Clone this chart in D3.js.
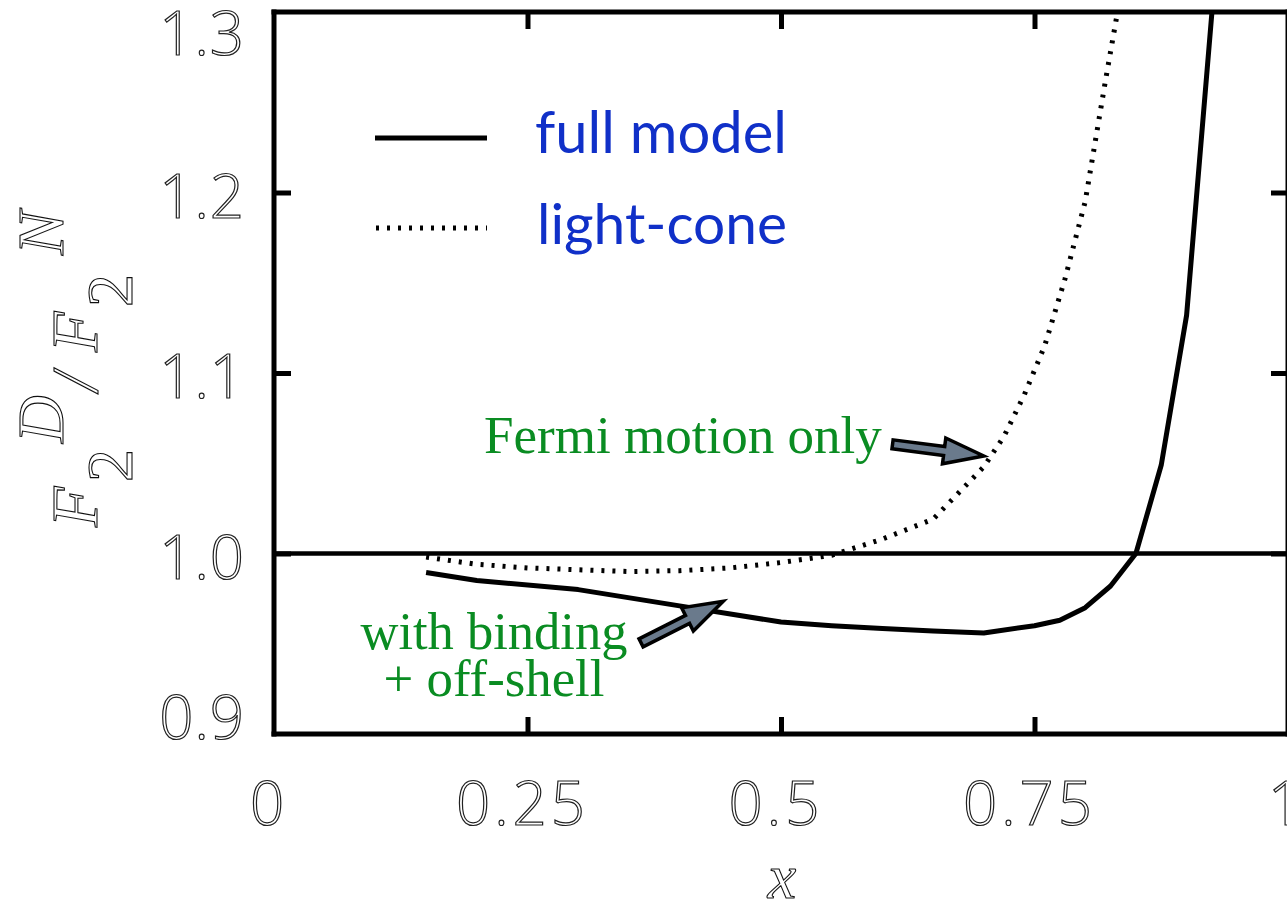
<!DOCTYPE html>
<html>
<head>
<meta charset="utf-8">
<script src="https://cdn.jsdelivr.net/npm/d3@7"></script>
<style>
  html, body { margin: 0; padding: 0; background: #fff; overflow: hidden; }
  svg { display: block; }
</style>
</head>
<body>
<svg id="chart" width="1287" height="905"></svg>
<script>
// ---------------- data ----------------
const xTicks = [0, 0.25, 0.5, 0.75, 1];
const xTickLabels = ["0", "0.25", "0.5", "0.75", "1"];
const yTicks = [0.9, 1.0, 1.1, 1.2, 1.3];
const yTickLabels = ["0.9", "1.0", "1.1", "1.2", "1.3"];

// full model (solid)
const fullX = [0.15, 0.2, 0.3, 0.4, 0.5, 0.55, 0.6, 0.65, 0.7, 0.75, 0.775, 0.8, 0.825, 0.85, 0.875, 0.9, 0.925];
const fullY = [0.9895, 0.985, 0.980, 0.971, 0.962, 0.960, 0.9585, 0.957, 0.956, 0.960, 0.963, 0.970, 0.982, 1.0, 1.049, 1.132, 1.30];

// light-cone (dotted)
const lcX = [0.15, 0.2, 0.25, 0.3, 0.35, 0.4, 0.45, 0.5, 0.55, 0.6, 0.65, 0.7, 0.72, 0.74, 0.76, 0.78, 0.8, 0.82, 0.835];
const lcY = [0.998, 0.994, 0.992, 0.991, 0.990, 0.9905, 0.992, 0.995, 0.999, 1.008, 1.019, 1.048, 1.065, 1.088, 1.115, 1.152, 1.195, 1.262, 1.31];

const seriesNames = ["full model", "light-cone"];
const annotations = ["Fermi motion only", "with binding", "+ off-shell"];

// ---------------- layout ----------------
const svg = d3.select("#chart");
const X0 = 274, X1 = 1288, Y0 = 734, Y1 = 12;
const x = d3.scaleLinear().domain([0, 1]).range([X0, X1]);
const y = d3.scaleLinear().domain([0.9, 1.3]).range([Y0, Y1]);

const blue = "#1030c8";
const green = "#0a8c22";

svg.append("defs").append("clipPath").attr("id", "clip")
  .append("rect").attr("x", X0).attr("y", Y1).attr("width", X1 - X0).attr("height", Y0 - Y1);

// frame
const frame = svg.append("g").attr("fill", "none").attr("stroke", "#000").attr("stroke-width", 5);
frame.append("line").attr("x1", X0).attr("x2", X0).attr("y1", Y1 - 2.5).attr("y2", Y0 + 2.5);
frame.append("line").attr("x1", X1).attr("x2", X1).attr("y1", Y1 - 2.5).attr("y2", Y0 + 2.5);
frame.append("line").attr("x1", X0 - 2.5).attr("x2", X1 + 3).attr("y1", Y1).attr("y2", Y1);
frame.append("line").attr("x1", X0 - 2.5).attr("x2", X1 + 3).attr("y1", Y0).attr("y2", Y0);

// ticks via axes
const tickLen = 17;
function styleAxis(g) {
  g.select(".domain").remove();
  g.selectAll(".tick line").attr("stroke", "#000").attr("stroke-width", 5);
  g.selectAll(".tick text").remove();
}
svg.append("g").attr("transform", `translate(0,${Y0})`)
  .call(d3.axisBottom(x).tickValues(xTicks.slice(1, -1)).tickSize(-tickLen)).call(styleAxis);
svg.append("g").attr("transform", `translate(0,${Y1})`)
  .call(d3.axisTop(x).tickValues(xTicks.slice(1, -1)).tickSize(-tickLen)).call(styleAxis);
svg.append("g").attr("transform", `translate(${X0},0)`)
  .call(d3.axisLeft(y).tickValues(yTicks.slice(1, -1)).tickSize(-tickLen)).call(styleAxis);
svg.append("g").attr("transform", `translate(${X1},0)`)
  .call(d3.axisRight(y).tickValues(yTicks.slice(1, -1)).tickSize(-tickLen)).call(styleAxis);

// tick labels (outlined thin font)
const tickFont = "'Open Sans', 'DejaVu Sans', sans-serif";
const yLabelShift = { "1.3": 18, "0.9": -20 };
svg.append("g").selectAll("text").data(yTicks).join("text")
  .attr("x", X0 - 29)
  .attr("y", (d, i) => y(d) + 25 + (yLabelShift[yTickLabels[i]] || 0))
  .attr("text-anchor", "end")
  .attr("font-family", tickFont).attr("font-weight", 300).attr("font-size", 60)
  .attr("letter-spacing", 1)
  .attr("fill", "#fff").attr("stroke", "#222").attr("stroke-width", 1.2)
  .text((d, i) => yTickLabels[i]);
svg.append("g").selectAll("text").data(xTicks).join("text")
  .attr("x", (d, i) => x(d) - (i === xTicks.length - 1 ? 1 : 5))
  .attr("y", 825)
  .attr("text-anchor", "middle")
  .attr("font-family", tickFont).attr("font-weight", 300).attr("font-size", 60)
  .attr("letter-spacing", 4)
  .attr("fill", "#fff").attr("stroke", "#222").attr("stroke-width", 1.2)
  .text((d, i) => xTickLabels[i]);

// x axis title
svg.append("text").attr("x", 782).attr("y", 898).attr("text-anchor", "middle")
  .attr("font-family", "'Liberation Serif', 'DejaVu Serif', serif").attr("font-style", "italic").attr("font-size", 64)
  .attr("fill", "#fff").attr("stroke", "#111").attr("stroke-width", 1.1)
  .text("x");

// y axis title: F_2^D / F_2^N (rotated)
const yt = svg.append("text").attr("transform", "translate(97,527) rotate(-90)")
  .attr("font-family", "'Liberation Serif', serif").attr("font-size", 66)
  .attr("fill", "#fff").attr("stroke", "#111").attr("stroke-width", 1.1);
const parts = [
  { t: "F", lx: 0, dy: 0, it: true },
  { t: "2", lx: 45, dy: 35, it: false },
  { t: "D", lx: 84, dy: -34, it: true },
  { t: "/", lx: 136, dy: 0, it: true },
  { t: "F", lx: 175, dy: 0, it: true },
  { t: "2", lx: 220, dy: 35, it: false },
  { t: "N", lx: 272, dy: -34, it: true }
];
parts.forEach(p => {
  yt.append("tspan").attr("x", p.lx).attr("y", p.dy)
    .attr("font-style", p.it ? "italic" : "normal").text(p.t);
});

// reference line at 1.0
svg.append("line").attr("x1", X0).attr("x2", X1).attr("y1", y(1.0)).attr("y2", y(1.0))
  .attr("stroke", "#000").attr("stroke-width", 4.5);

// curves
const line = d3.line().x(d => x(d[0])).y(d => y(d[1]));
const plot = svg.append("g").attr("clip-path", "url(#clip)");
plot.append("path").datum(fullX.map((v, i) => [v, fullY[i]]))
  .attr("d", line).attr("fill", "none").attr("stroke", "#000").attr("stroke-width", 5)
  .attr("stroke-linejoin", "round");
plot.append("path").datum(lcX.map((v, i) => [v, lcY[i]]))
  .attr("d", line).attr("fill", "none").attr("stroke", "#000").attr("stroke-width", 5)
  .attr("stroke-dasharray", "3,8");

// legend
const legend = svg.append("g");
legend.append("line").attr("x1", 375).attr("x2", 487).attr("y1", 138).attr("y2", 138)
  .attr("stroke", "#000").attr("stroke-width", 5);
legend.append("line").attr("x1", 376).attr("x2", 487).attr("y1", 228).attr("y2", 228)
  .attr("stroke", "#000").attr("stroke-width", 5).attr("stroke-dasharray", "3,8");

function fitText(sel, targetW) {
  const node = sel.node();
  const fs = +sel.attr("font-size");
  const w = node.getComputedTextLength();
  if (w > 0) sel.attr("font-size", fs * targetW / w);
}
const legFont = "'Lato', 'Open Sans', sans-serif";
const lt1 = legend.append("text").attr("x", 535).attr("y", 153).attr("font-family", legFont)
  .attr("font-size", 56).attr("fill", blue).text(seriesNames[0]);
fitText(lt1, 252);
const lt2 = legend.append("text").attr("x", 537).attr("y", 244).attr("font-family", legFont)
  .attr("font-size", 56).attr("fill", blue).text(seriesNames[1]);
fitText(lt2, 250);

// annotations
const annFont = "'Liberation Serif', 'Times New Roman', serif";
const a1 = svg.append("text").attr("x", 484).attr("y", 453).attr("font-family", annFont)
  .attr("font-size", 50).attr("fill", green).text(annotations[0]);
fitText(a1, 398);
const a2 = svg.append("text").attr("x", 494).attr("y", 649).attr("text-anchor", "middle").attr("font-family", annFont)
  .attr("font-size", 50).attr("fill", green).text(annotations[1]);
fitText(a2, 267);
const a3 = svg.append("text").attr("x", 494).attr("y", 696).attr("text-anchor", "middle").attr("font-family", annFont)
  .attr("font-size", 50).attr("fill", green).text(annotations[2]);
fitText(a3, 221);

// block arrows (tail/tip in data coordinates)
function blockArrow(tail, tip) {
  const [x0, y0] = [x(tail[0]), y(tail[1])];
  const [x1, y1] = [x(tip[0]), y(tip[1])];
  const dx = x1 - x0, dy = y1 - y0, L = Math.hypot(dx, dy);
  const ux = dx / L, uy = dy / L, nx = -uy, ny = ux;
  const sw = 4.5, hw = 13, hl = 40;
  const bx = x1 - ux * hl, by = y1 - uy * hl;
  const pts = [
    [x0 + nx * sw, y0 + ny * sw], [bx + nx * sw, by + ny * sw], [bx + nx * hw, by + ny * hw],
    [x1, y1], [bx - nx * hw, by - ny * hw], [bx - nx * sw, by - ny * sw], [x0 - nx * sw, y0 - ny * sw]
  ];
  svg.append("path").attr("d", "M" + pts.map(p => p.join(",")).join("L") + "Z")
    .attr("fill", "#6a7a8c").attr("stroke", "#000").attr("stroke-width", 3.5)
    .attr("stroke-linejoin", "miter");
}
blockArrow([0.610, 1.0605], [0.700, 1.054]);
blockArrow([0.362, 0.9505], [0.443, 0.9735]);
</script>
</body>
</html>
